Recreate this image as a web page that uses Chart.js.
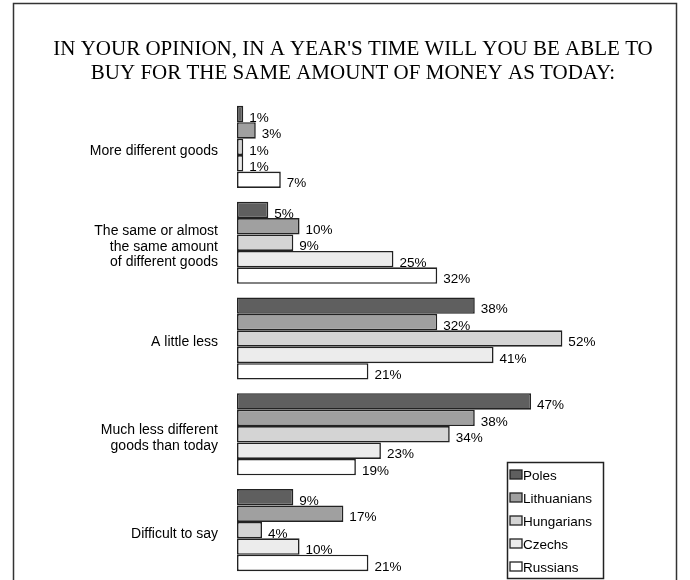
<!DOCTYPE html>
<html>
<head>
<meta charset="utf-8">
<script src="https://cdn.jsdelivr.net/npm/chart.js@4"></script>
<style>
  html, body { margin: 0; padding: 0; background: #fff; }
  #wrap { width: 690px; height: 580px; }
</style>
</head>
<body>
<div id="wrap"><canvas id="opinionChart"></canvas></div>
<script>
var categories = [
    'More different goods',
    ['The same or almost', 'the same amount', 'of different goods'],
    'A little less',
    ['Much less different', 'goods than today'],
    'Difficult to say'
];
var poles = [1, 5, 38, 47, 9];
var lithuanians = [3, 10, 32, 38, 17];
var hungarians = [1, 9, 52, 34, 4];
var czechs = [1, 25, 41, 23, 10];
var russians = [7, 32, 21, 19, 21];

var seriesNames = ['Poles', 'Lithuanians', 'Hungarians', 'Czechs', 'Russians'];
var seriesColors = ['#5f5f5f', '#a0a0a0', '#d4d4d4', '#ececec', '#ffffff'];

var sansFont = "'Liberation Sans', Arial, sans-serif";

// frame + white background
var framePlugin = {
    id: 'frame',
    beforeDraw: function(chart) {
        var c = chart.ctx;
        c.save();
        c.fillStyle = '#fff';
        c.fillRect(0, 0, chart.width, chart.height);
        c.strokeStyle = '#333';
        c.lineWidth = 1.5;
        c.strokeRect(13.5, 3.5, 663, 620);
        c.restore();
    }
};

// value labels next to each bar
var valueLabels = {
    id: 'valueLabels',
    afterDatasetsDraw: function(chart) {
        var c = chart.ctx;
        c.save();
        c.font = '13.5px ' + sansFont;
        c.fillStyle = '#000';
        c.textAlign = 'left';
        c.textBaseline = 'middle';
        chart.data.datasets.forEach(function(ds, i) {
            chart.getDatasetMeta(i).data.forEach(function(bar, j) {
                c.fillText(ds.data[j] + '%', bar.x + 6, bar.y + 4);
            });
        });
        c.restore();
    }
};

// boxed legend in the lower right corner
var boxLegend = {
    id: 'boxLegend',
    afterDraw: function(chart) {
        var c = chart.ctx;
        var x = 507, y = 462, w = 96, h = 116;
        c.save();
        c.fillStyle = '#fff';
        c.fillRect(x, y, w, h);
        c.strokeStyle = '#222';
        c.lineWidth = 1.5;
        c.strokeRect(x + 0.5, y + 0.5, w, h);
        c.font = '13.5px ' + sansFont;
        c.textBaseline = 'middle';
        chart.data.datasets.forEach(function(ds, i) {
            var ry = y + 13 + i * 23;
            c.fillStyle = ds.backgroundColor;
            c.fillRect(x + 3, ry - 5, 12, 9);
            c.strokeStyle = '#222';
            c.lineWidth = 1.3;
            c.strokeRect(x + 3, ry - 5, 12, 9);
            c.fillStyle = '#000';
            c.fillText(ds.label, x + 16, ry + 1);
        });
        c.restore();
    }
};

var allValues = [poles, lithuanians, hungarians, czechs, russians];
var datasets = allValues.map(function(vals, i) {
    return {
        label: seriesNames[i],
        data: vals,
        backgroundColor: seriesColors[i],
        borderColor: '#222',
        borderWidth: 1.6,
        borderSkipped: false,
        categoryPercentage: 0.857,
        barPercentage: 1.0
    };
});

var ctx = document.getElementById('opinionChart').getContext('2d');
var opinionChart = new Chart(ctx, {
    type: 'bar',
    data: { labels: categories, datasets: datasets },
    options: {
        indexAxis: 'y',
        responsive: true,
        maintainAspectRatio: false,
        animation: false,
        layout: { padding: { left: 31, right: 15, top: 0, bottom: 2 } },
        scales: {
            x: {
                display: false,
                min: 0,
                max: 70
            },
            y: {
                grid: { display: false, drawTicks: false },
                border: { display: false },
                afterFit: function(scale) {
                    scale.width = 206;
                    scale.paddingTop = 0;
                    scale.paddingBottom = 0;
                },
                ticks: {
                    color: '#000',
                    padding: 19,
                    labelOffset: 4,
                    font: { family: sansFont, size: 14, lineHeight: 1.12 }
                }
            }
        },
        plugins: {
            legend: { display: false },
            tooltip: { enabled: false },
            title: {
                display: true,
                text: ["IN YOUR OPINION, IN A YEAR'S TIME WILL YOU BE ABLE TO", 'BUY FOR THE SAME AMOUNT OF MONEY AS TODAY:'],
                color: '#000',
                font: { family: "'Liberation Serif', 'Times New Roman', serif", size: 21, weight: 'normal', lineHeight: '23.5px' },
                padding: { top: 38, bottom: 14 }
            }
        }
    },
    plugins: [framePlugin, valueLabels, boxLegend]
});
</script>
</body>
</html>
